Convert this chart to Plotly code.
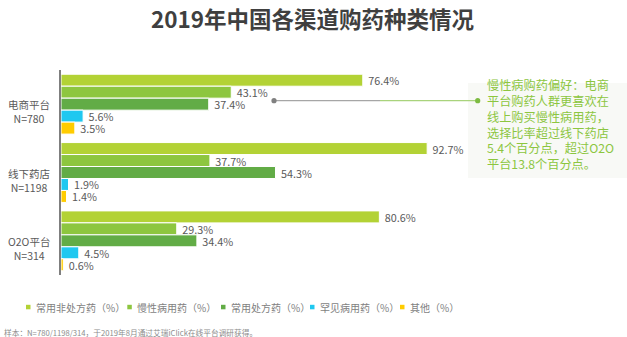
import plotly.graph_objects as go

# ---- data ----
channels = ["电商平台", "线下药店", "O2O平台"]
sample_sizes = ["N=780", "N=1198", "N=314"]
series_names = ["常用非处方药（%）", "慢性病用药（%）", "常用处方药（%）", "罕见病用药（%）", "其他（%）"]
otc = [76.4, 92.7, 80.6]
chronic = [43.1, 37.7, 29.3]
rx = [37.4, 54.3, 34.4]
rare = [5.6, 1.9, 4.5]
other = [3.5, 1.4, 0.6]
series_values = [otc, chronic, rx, rare, other]
colors = ["#b3d235", "#8dc63f", "#62ac46", "#1fc8f0", "#ffcc00"]

title_text = "2019年中国各渠道购药种类情况"
note_lines = ["慢性病购药偏好：电商", "平台购药人群更喜欢在", "线上购买慢性病用药，",
              "选择比率超过线下药店", "5.4个百分点，超过O2O", "平台13.8个百分点。"]
footnote = "样本：N=780/1198/314，于2019年8月通过艾瑞iClick在线平台调研获得。"

FONT = "Noto Sans CJK SC"
W, H = 627, 337
ML, MR, MT, MB = 61, 0, 70, 62
PW, PH = W - ML - MR, H - MT - MB


def px_x(px):
    return (px - ML) / PW


def px_y(py):
    return (H - MB - py) / PH


fig = go.Figure()
for name, vals, col in zip(series_names, series_values, colors):
    fig.add_trace(go.Bar(
        y=channels, x=vals, name=name, orientation="h",
        marker=dict(color=col, line=dict(color="white", width=1)),
        text=[f" {v:.1f}%" for v in vals], textposition="outside",
        textfont=dict(family=FONT, size=10.8, color="#595959"),
        constraintext="none", cliponaxis=False, showlegend=False,
    ))

annotations = []
shapes = []

# title
annotations.append(dict(
    xref="paper", yref="paper", x=px_x(313), y=px_y(18),
    text=f"<b>{title_text}</b>", showarrow=False, xanchor="center", yanchor="middle",
    borderpad=0, font=dict(family=FONT, size=22.5, color="#3f3f3f")))

# category labels
for ch, n in zip(channels, sample_sizes):
    annotations.append(dict(
        xref="paper", yref="y", x=px_x(29), y=ch, yshift=-7.5,
        text=f"{ch}<br>{n}", showarrow=False, xanchor="center", yanchor="middle",
        font=dict(family=FONT, size=10.5, color="#595959"), align="center"))

# manual legend
leg_sq_left = [26, 127.3, 221, 310, 400]
leg_y = 307
for name, col, lx in zip(series_names, colors, leg_sq_left):
    shapes.append(dict(type="rect", xref="paper", yref="paper",
                       x0=px_x(lx), x1=px_x(lx + 4.5), y0=px_y(leg_y + 2.3), y1=px_y(leg_y - 2.2),
                       fillcolor=col, line=dict(width=0)))
    annotations.append(dict(
        xref="paper", yref="paper", x=px_x(lx + 7.5), y=px_y(leg_y),
        text=name, showarrow=False, xanchor="left", yanchor="middle",
        font=dict(family=FONT, size=10, color="#7f7f7f")))

# note box
shapes.append(dict(type="rect", xref="paper", yref="paper",
                   x0=px_x(468), x1=px_x(627), y0=px_y(178), y1=px_y(83),
                   fillcolor="#f8f9f6", line=dict(width=0), layer="below"))
# connector
shapes.append(dict(type="line", xref="paper", yref="paper",
                   x0=px_x(274), x1=px_x(380), y0=px_y(100.7), y1=px_y(100.7),
                   line=dict(color="#a6a6a6", width=1.2)))
shapes.append(dict(type="line", xref="paper", yref="paper",
                   x0=px_x(380), x1=px_x(477.7), y0=px_y(100.7), y1=px_y(100.7),
                   line=dict(color="#a9d37c", width=1.2)))
for cx, col in [(274, "#808080"), (477.7, "#7dbb42")]:
    shapes.append(dict(type="circle", xref="paper", yref="paper",
                       x0=px_x(cx - 2.6), x1=px_x(cx + 2.6), y0=px_y(100.7 + 2.6), y1=px_y(100.7 - 2.6),
                       fillcolor=col, line=dict(width=0)))
annotations.append(dict(
    xref="paper", yref="paper", x=px_x(486), y=px_y(124.5),
    text="<br>".join(note_lines), showarrow=False, xanchor="left", yanchor="middle",
    align="left", borderpad=0,
    font=dict(family=FONT, size=12.2, color="#8cc63f")))

# footnote
annotations.append(dict(
    xref="paper", yref="paper", x=px_x(2), y=px_y(332),
    text=footnote, showarrow=False, xanchor="left", yanchor="middle",
    font=dict(family=FONT, size=7.7, color="#8c8c8c")))

fig.update_layout(
    width=W, height=H,
    margin=dict(l=ML, r=MR, t=MT, b=MB, pad=0),
    paper_bgcolor="white", plot_bgcolor="white",
    barmode="group", bargap=0.124, bargroupgap=0,
    xaxis=dict(range=[0, PW / 3.95], visible=False, fixedrange=True),
    yaxis=dict(autorange="reversed", showticklabels=False, showgrid=False, zeroline=False,
               showline=True, linecolor="#7f7f7f", linewidth=1.5, ticks=""),
    annotations=annotations, shapes=shapes,
    font=dict(family=FONT),
)

fig.write_html("out.html")
